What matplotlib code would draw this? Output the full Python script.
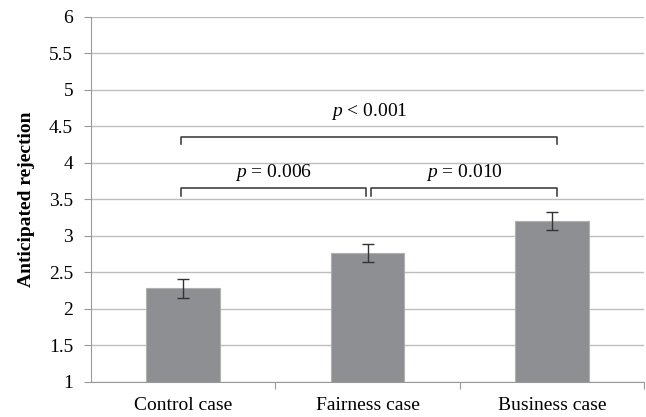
import numpy as np
import matplotlib.pyplot as plt

plt.rcParams['font.family'] = ['Liberation Serif', 'DejaVu Serif']
plt.rcParams['mathtext.fontset'] = 'custom'
plt.rcParams['mathtext.it'] = 'Liberation Serif:italic'
plt.rcParams['mathtext.rm'] = 'Liberation Serif'

# data
categories = ['Control case', 'Fairness case', 'Business case']
means = [2.28, 2.76, 3.20]
errors = [0.13, 0.12, 0.12]
y_ticks = [1, 1.5, 2, 2.5, 3, 3.5, 4, 4.5, 5, 5.5, 6]
y_tick_labels = ['1', '1.5', '2', '2.5', '3', '3.5', '4', '4.5', '5', '5.5', '6']
p_labels = ['p = 0.006', 'p = 0.010', 'p < 0.001']

FS = 14

fig = plt.figure(figsize=(6.46, 4.17), dpi=100)
ax = fig.add_axes([0.141, 0.0847, 0.856, 0.8753])

x = np.arange(len(categories))
ax.bar(x, means, width=0.4, bottom=0, color='#8e8f93', edgecolor='#b0b0b0',
       linewidth=0.8, zorder=2)
ax.errorbar(x, means, yerr=errors, fmt='none', ecolor='#333333',
            elinewidth=1.0, capsize=4, capthick=1.0, zorder=3)

ax.set_xlim(-0.5, 2.5)
ax.set_ylim(1, 6)
ax.set_yticks(y_ticks)
ax.set_yticklabels(y_tick_labels)
ax.yaxis.grid(True, color='#bdbdbd', linewidth=1.0, zorder=0)
ax.set_axisbelow(True)

# category labels between boundary ticks
ax.set_xticks([0.5, 1.5, 2.5])
ax.set_xticklabels([])
ax.set_xticks(x, minor=True)
ax.set_xticklabels(categories, minor=True)
ax.tick_params(axis='x', which='major', length=5, color='#999999', direction='out')
ax.tick_params(axis='x', which='minor', length=0, pad=11, labelsize=FS)
ax.tick_params(axis='y', length=5, color='#999999', labelsize=FS, pad=8)

for side in ['top', 'right']:
    ax.spines[side].set_visible(False)
ax.spines['left'].set_color('#999999')
ax.spines['bottom'].set_color('#999999')

ax.set_ylabel('Anticipated rejection', fontweight='bold', fontsize=FS, labelpad=10)


def bracket(x0, x1, y, h, label, dy):
    ax.plot([x0, x0, x1, x1], [y - h, y, y, y - h], color='#333333',
            linewidth=1.1, zorder=4)
    p, rest = label.split(' ', 1)
    ax.text((x0 + x1) / 2, y + dy, f'$\\mathit{{{p}}}$ ' + rest, ha='center',
            va='center', fontsize=FS, zorder=4)


bracket(-0.01, 0.99, 3.66, 0.11, p_labels[0], 0.21)
bracket(1.02, 2.03, 3.66, 0.11, p_labels[1], 0.21)
bracket(-0.01, 2.03, 4.35, 0.09, p_labels[2], 0.35)

fig.savefig('out.png', dpi=100)
